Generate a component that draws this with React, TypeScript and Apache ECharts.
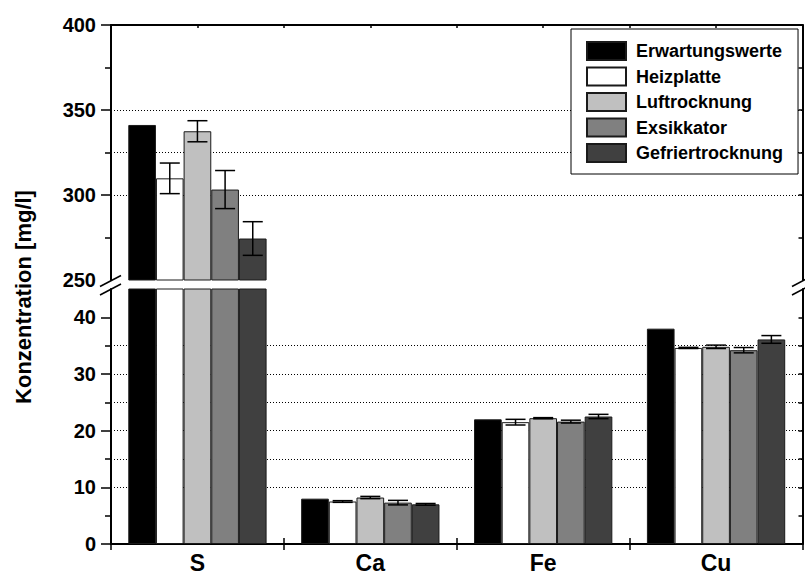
import React, { useEffect, useRef } from 'react';
import * as echarts from 'echarts';

const categories = ['S', 'Ca', 'Fe', 'Cu'];
const seriesNames = ['Erwartungswerte', 'Heizplatte', 'Luftrocknung', 'Exsikkator', 'Gefriertrocknung'];

const erwartungswerte = [341.2, 8.0, 22.0, 38.0];
const heizplatte = [309.8, 7.5, 21.5, 34.6];
const luftrocknung = [337.5, 8.2, 22.2, 34.8];
const exsikkator = [303.2, 7.3, 21.6, 34.2];
const gefriertrocknung = [274.4, 7.0, 22.5, 36.1];

const erwartungswerteErr = [0, 0, 0, 0];
const heizplatteErr = [9.0, 0.15, 0.5, 0.1];
const luftrocknungErr = [6.2, 0.2, 0.1, 0.3];
const exsikkatorErr = [11.2, 0.4, 0.25, 0.47];
const gefriertrocknungErr = [9.9, 0.15, 0.38, 0.68];

const upperLabels = [250, 300, 350, 400];
const upperMajorTicks = [300, 350, 400];
const upperMinorTicks = [275, 325, 375];
const upperGridTicks = [275, 300, 325, 350, 375];
const lowerLabels = [0, 10, 20, 30, 40];
const lowerMajorTicks = [0, 10, 20, 30, 40];
const lowerMinorTicks = [5, 15, 25, 35];
const lowerGridTicks = [5, 10, 15, 20, 25, 30, 35, 40];

const colors = ['#000000', '#ffffff', '#c0c0c0', '#808080', '#404040'];
const FONT = '"Liberation Sans", Arial, sans-serif';

export default function App() {
  const ref = useRef<HTMLDivElement>(null);

  useEffect(() => {
    if (!ref.current) return;
    const chart = echarts.init(ref.current, undefined, { renderer: 'svg' });

    const values = [erwartungswerte, heizplatte, luftrocknung, exsikkator, gefriertrocknung];
    const errors = [erwartungswerteErr, heizplatteErr, luftrocknungErr, exsikkatorErr, gefriertrocknungErr];

    const upperErr: number[][] = [];
    const lowerErr: number[][] = [];
    values.forEach((arr, s) => {
      arr.forEach((v, c) => {
        const e = errors[s][c];
        if (!e) return;
        if (v >= 250) upperErr.push([c, s, v, e]);
        else lowerErr.push([c, s, v, e]);
      });
    });

    const renderErr = (params: any, api: any) => {
      const cat = api.value(0);
      const sIdx = api.value(1);
      const v = api.value(2);
      const e = api.value(3);
      const band = api.size([1, 0])[0];
      const barW = (band * 0.8) / 5;
      const cx = api.coord([cat, v])[0] - band * 0.4 + barW * (sIdx + 0.5);
      const yHi = api.coord([cat, v + e])[1];
      const yLo = api.coord([cat, v - e])[1];
      const half = 10;
      const st = { stroke: '#000', lineWidth: 1.5 };
      return {
        type: 'group',
        children: [
          { type: 'line', shape: { x1: cx, y1: yHi, x2: cx, y2: yLo }, style: st },
          { type: 'line', shape: { x1: cx - half, y1: yHi, x2: cx + half, y2: yHi }, style: st },
          { type: 'line', shape: { x1: cx - half, y1: yLo, x2: cx + half, y2: yLo }, style: st },
        ],
      };
    };

    const axisLineStyle = { color: '#000', width: 2 };
    const tickStyle = { color: '#000', width: 1.5 };
    const gridDots = { type: [1, 2] as any, color: '#000', width: 1 };
    const labelStyle = { fontSize: 20, fontWeight: 'bold' as const, color: '#000', fontFamily: FONT, margin: 15 };

    const barSeries: any[] = [];
    values.forEach((arr, s) => {
      barSeries.push({
        type: 'bar',
        name: seriesNames[s],
        xAxisIndex: 0,
        yAxisIndex: 0,
        data: arr.map((v) => (v >= 250 ? v : '-')),
        barGap: '0%',
        barCategoryGap: '20%',
        itemStyle: { color: colors[s], borderColor: '#1a1a1a', borderWidth: 1 },
        z: 2,
      });
      barSeries.push({
        type: 'bar',
        name: seriesNames[s],
        xAxisIndex: 2,
        yAxisIndex: 3,
        data: arr.slice(),
        clip: true,
        barGap: '0%',
        barCategoryGap: '20%',
        itemStyle: { color: colors[s], borderColor: '#1a1a1a', borderWidth: 1 },
        z: 2,
      });
    });

    const valueAxisBase = (grid: number, min: number, max: number, interval: number) => ({
      type: 'value',
      gridIndex: grid,
      min,
      max,
      interval,
    });

    const option: any = {
      animation: false,
      backgroundColor: '#fff',
      textStyle: { fontFamily: FONT },
      grid: [
        { left: 111, right: 2.5, top: 25, height: 255 },
        { left: 111, right: 2.5, top: 289, height: 255 },
      ],
      legend: {
        data: seriesNames,
        orient: 'vertical',
        left: 571,
        top: 29,
        itemWidth: 39,
        itemHeight: 18,
        itemGap: 5.5,
        padding: [12, 15, 11, 15],
        borderColor: '#000',
        borderWidth: 1,
        backgroundColor: '#fff',
        selectedMode: false,
        icon: 'rect',
        z: 10,
        textStyle: { fontSize: 18, fontWeight: 'bold', color: '#000', fontFamily: FONT, padding: [0, 0, 0, 5] },
      },
      xAxis: [
        {
          type: 'category', gridIndex: 0, data: categories, position: 'top',
          axisLine: { show: true, onZero: false, lineStyle: axisLineStyle },
          axisTick: { show: true, inside: true, length: 3, lineStyle: tickStyle },
          axisLabel: { show: false }, splitLine: { show: false },
        },
        {
          type: 'category', gridIndex: 0, data: categories, position: 'top',
          axisLine: { show: false, onZero: false },
          axisTick: { show: true, inside: true, length: 3, alignWithLabel: true, lineStyle: tickStyle },
          axisLabel: { show: false }, splitLine: { show: false },
        },
        {
          type: 'category', gridIndex: 1, data: categories, position: 'bottom',
          axisLine: { show: true, onZero: false, lineStyle: axisLineStyle },
          axisTick: { show: true, length: 6, lineStyle: tickStyle },
          axisLabel: { show: true, fontSize: 23, fontWeight: 'bold', color: '#000', fontFamily: FONT, margin: 7 },
          splitLine: { show: false },
        },
        {
          type: 'category', gridIndex: 1, data: categories, position: 'bottom',
          axisLine: { show: false, onZero: false },
          axisTick: { show: true, inside: true, length: 6, lineStyle: tickStyle },
          axisLabel: { show: false }, splitLine: { show: false },
        },
      ],
      yAxis: [
        {
          ...valueAxisBase(0, 250, 400, 25), position: 'left',
          axisLine: { show: true, lineStyle: axisLineStyle },
          axisTick: { show: true, length: 10, customValues: upperMajorTicks, lineStyle: tickStyle },
          axisLabel: {
            show: true, ...labelStyle,
            formatter: (v: number) => (upperLabels.indexOf(v) >= 0 ? String(v) : ''),
          },
          splitLine: { show: false },
        },
        {
          ...valueAxisBase(0, 250, 400, 25), position: 'left',
          axisLine: { show: false },
          axisTick: { show: true, length: 6, customValues: upperMinorTicks, lineStyle: tickStyle },
          axisLabel: { show: false }, splitLine: { show: false },
        },
        {
          ...valueAxisBase(0, 250, 400, 25), position: 'right',
          axisLine: { show: true, lineStyle: axisLineStyle },
          axisTick: { show: true, inside: true, length: 4, customValues: upperGridTicks, lineStyle: tickStyle },
          axisLabel: { show: false },
          splitLine: { show: true, showMinLine: false, showMaxLine: false, lineStyle: gridDots },
        },
        {
          ...valueAxisBase(1, 0, 45, 5), position: 'left',
          axisLine: { show: true, lineStyle: axisLineStyle },
          axisTick: { show: true, length: 10, customValues: lowerMajorTicks, lineStyle: tickStyle },
          axisLabel: {
            show: true, ...labelStyle,
            formatter: (v: number) => (lowerLabels.indexOf(v) >= 0 ? String(v) : ''),
          },
          splitLine: { show: false },
        },
        {
          ...valueAxisBase(1, 0, 45, 5), position: 'left',
          axisLine: { show: false },
          axisTick: { show: true, length: 6, customValues: lowerMinorTicks, lineStyle: tickStyle },
          axisLabel: { show: false }, splitLine: { show: false },
        },
        {
          ...valueAxisBase(1, 0, 45, 5), position: 'right',
          axisLine: { show: true, lineStyle: axisLineStyle },
          axisTick: { show: true, inside: true, length: 4, customValues: lowerGridTicks, lineStyle: tickStyle },
          axisLabel: { show: false },
          splitLine: { show: true, showMinLine: false, showMaxLine: false, lineStyle: gridDots },
        },
      ],
      series: [
        ...barSeries,
        {
          type: 'custom', name: 'errUpper', xAxisIndex: 0, yAxisIndex: 0,
          data: upperErr, encode: { x: 0, y: 2 }, renderItem: renderErr, z: 5, clip: true,
        },
        {
          type: 'custom', name: 'errLower', xAxisIndex: 2, yAxisIndex: 3,
          data: lowerErr, encode: { x: 0, y: 2 }, renderItem: renderErr, z: 5, clip: true,
        },
      ],
      graphic: [
        {
          type: 'text', x: 23, y: 297, rotation: Math.PI / 2, z: 10,
          style: { text: 'Konzentration [mg/l]', fontSize: 22, fontWeight: 'bold', fontFamily: FONT, fill: '#000', align: 'center', verticalAlign: 'middle' },
        },
        { type: 'line', z: 10, shape: { x1: 100, y1: 286.5, x2: 121, y2: 275.5 }, style: { stroke: '#000', lineWidth: 1.5 } },
        { type: 'line', z: 10, shape: { x1: 100, y1: 295, x2: 121, y2: 284 }, style: { stroke: '#000', lineWidth: 1.5 } },
        { type: 'line', z: 10, shape: { x1: 792, y1: 286.5, x2: 813, y2: 275.5 }, style: { stroke: '#000', lineWidth: 1.5 } },
        { type: 'line', z: 10, shape: { x1: 792, y1: 295, x2: 813, y2: 284 }, style: { stroke: '#000', lineWidth: 1.5 } },
      ],
    };

    chart.setOption(option);
    return () => chart.dispose();
  }, []);

  return (
    <div
      ref={ref}
      style={{ position: 'fixed', left: 0, top: 0, width: 805, height: 575, background: '#fff' }}
    />
  );
}
